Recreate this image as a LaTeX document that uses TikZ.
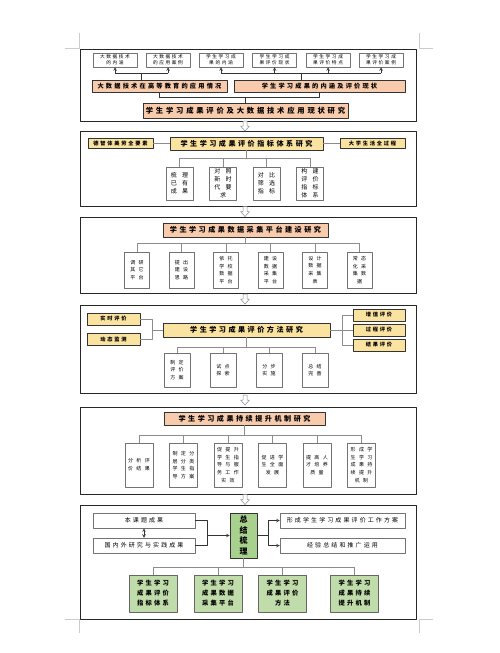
\documentclass[tikz,border=0pt]{standalone}
\usepackage{fontspec}
\setmainfont{Noto Sans CJK SC}
\newlength\zj
% 汉字之间加字距
\newcount\hz \hz="4E00
\loop \XeTeXcharclass\hz=10 \advance\hz by 1 \ifnum\hz<"A000 \repeat
\XeTeXinterchartokenstate=1
\XeTeXinterchartoks 10 10 = {\hskip\zj\relax}
\definecolor{cheng}{HTML}{F7CBAC}
\definecolor{huang}{HTML}{FAE2A0}
\definecolor{lv}{HTML}{C0DCAA}
\definecolor{lvshen}{HTML}{A9D18E}
\tikzset{
  kuang/.style={draw=black!85,line width=0.9pt},
  biaoji/.style={draw=black!20,line width=0.5pt},
  jiantou/.style={draw=black!45,fill=white,line width=0.5pt},
  xian/.style={draw=black!45,line width=0.5pt},
  xianhei/.style={draw=black!80,line width=0.6pt},
  hezi/.style={draw=black!55,fill=white,line width=0.5pt,inner sep=0pt,align=center},
  xiao/.style={hezi,minimum width=44pt,minimum height=14pt,
    font=\fontsize{4.7}{6.3}\selectfont\setlength\zj{1.6pt}},
  shu/.style={hezi,font=\fontsize{5}{7.8}\selectfont\setlength\zj{3.4pt}},
  shukuan/.style={hezi,font=\fontsize{6}{8}\selectfont\setlength\zj{5.4pt}},
  bian/.style={hezi,font=\fontsize{6}{7}\selectfont\setlength\zj{2.1pt}},
  zhuti/.style={draw=black!80,line width=0.6pt,inner sep=0pt,align=center,
    font=\bfseries\fontsize{7.1}{9}\selectfont\setlength\zj{2.5pt}},
  chengzhong/.style={zhuti,fill=cheng,
    font=\bfseries\fontsize{6.2}{7}\selectfont\setlength\zj{2.2pt}},
  ce/.style={zhuti,fill=huang,
    font=\bfseries\fontsize{5.2}{6}\selectfont\setlength\zj{1.8pt}},
  lvkuang/.style={zhuti,fill=lv,draw=black!60,
    font=\bfseries\fontsize{6.3}{10}\selectfont\setlength\zj{2.2pt}},
  zongjie/.style={zhuti,fill=lvshen,font=\bfseries\fontsize{8}{10.5}\selectfont}
}
\begin{document}
\begin{tikzpicture}[x=1pt,y=-1pt,>=stealth,line join=round]
\useasboundingbox (0,0) rectangle (500,653);
% 页面角标
\foreach \x/\y/\dx/\dy in {79/48/-14/-15,419/48/14/-15,79/619/-14/14,419/619/14/14}
  \draw[biaoji] (\x+\dx,\y) -- (\x,\y) -- (\x,\y+\dy);
% 六个外框
\foreach \t/\b in {49/121,131/206,217/293,305/393,407/494,505/619}
  \draw[kuang] (80,\t) rectangle (416,\b);
% 框间箭头
\foreach \y in {126,211.5,299,400,499.5}
  \draw[jiantou,shift={(245,\y)}] (-2,-5) -- (2,-5) -- (2,0) -- (4.5,0) -- (0,5) -- (-4.5,0) -- (-2,0) -- cycle;

% 第一部分
\foreach \n/\x/\wz in {a1/115/{大数据技术\\的内涵},a2/168/{大数据技术\\的应用案例},
  a3/221/{学生学习成\\果的内涵},a4/274.5/{学生学习成\\果评价现状},
  a5/328/{学生学习成\\果评价特点},a6/381/{学生学习成\\果评价案例}}
  \node[xiao] (\n) at (\x,60) {\wz};
\node[chengzhong,minimum width=135pt,minimum height=12pt] (m1) at (159.5,86) {大数据技术在高等教育的应用情况};
\node[chengzhong,minimum width=171pt,minimum height=12pt] (m2) at (319.5,86) {学生学习成果的内涵及评价现状};
\node[zhuti,fill=cheng,minimum width=205pt,minimum height=15pt,
  font=\bfseries\fontsize{7.3}{9}\selectfont\setlength\zj{2.8pt}] (t1) at (245.5,110.5) {学生学习成果评价及大数据技术应用现状研究};
\coordinate (g1) at (141.5,73);
\coordinate (g2) at (301,73);
\coordinate (h1) at (0,97);
\draw[xianhei] (a1.south |- g1) -- (a2.south |- g1) (a3.south |- g2) -- (a6.south |- g2);
\foreach \n in {a1,a2,a3,a4,a5,a6}
  \draw[xianhei,->] (\n.south |- g1) -- (\n.south);
\draw[xianhei] (g1) -- (g1 |- m1.north) (g2) -- (g2 |- m2.north);
\draw[xianhei] (m1.south) -- (m1.south |- h1) -- (m2.south |- h1) -- (m2.south)
  (t1.north) -- (t1.north |- h1);

% 第二部分
\node[ce,minimum width=65pt,minimum height=10pt] (d1) at (120.5,143.5) {德智体美劳全要素};
\node[zhuti,fill=huang,minimum width=153pt,minimum height=13pt] (c2) at (246.5,143.5) {学生学习成果评价指标体系研究};
\node[ce,minimum width=65pt,minimum height=10pt] (d2) at (372.5,143.5) {大学生活全过程};
\draw[xian] (d1) -- (c2) (c2) -- (d2);
\foreach \i/\x/\wz in {1/179.5/{梳理\\已有\\成果},2/223/{对照\\新时\\代要\\求},
  3/266.5/{对比\\筛选\\指标},4/310/{构建\\评价\\指标\\体系}}
  \node[shukuan,minimum width=27pt,minimum height=33pt] (b2\i) at (\x,183.5) {\wz};
\coordinate (h2) at (0,158);
\draw[xian] (c2.south) -- (c2.south |- h2) (b21.north |- h2) -- (b24.north |- h2);
\foreach \i in {1,...,4}
  \draw[xian] (b2\i.north |- h2) -- (b2\i.north);

% 第三部分
\node[zhuti,fill=cheng,minimum width=165pt,minimum height=14pt] (c3) at (245.5,230) {学生学习成果数据采集平台建设研究};
\foreach \i/\x/\wz in {1/137/{调研\\其它\\平台},2/181.5/{提出\\建设\\思路},
  3/226/{依托\\学校\\数据\\平台},4/270.5/{建设\\数据\\采集\\平台},
  5/315/{设计\\数据\\采集\\表},6/359.5/{常态\\化采\\集数\\据}}
  \node[shu,minimum width=25pt,minimum height=36pt] (b3\i) at (\x,270) {\wz};
\coordinate (h3) at (0,243);
\draw[xian] (c3.south) -- (c3.south |- h3) (b31.north |- h3) -- (b36.north |- h3);
\foreach \i in {1,...,6}
  \draw[xian] (b3\i.north |- h3) -- (b3\i.north);

% 第四部分
\node[ce,minimum width=53pt,minimum height=12pt] (l1) at (113.5,319) {实时评价};
\node[ce,minimum width=53pt,minimum height=12pt] (l2) at (113.5,339) {动态监测};
\node[zhuti,fill=huang,minimum width=167pt,minimum height=14pt] (c4) at (246.5,330) {学生学习成果评价方法研究};
\foreach \n/\y/\wz in {r1/315/增值评价,r2/330/过程评价,r3/345/结果评价}
  \node[ce,minimum width=52pt,minimum height=12pt] (\n) at (379,\y) {\wz};
\coordinate (zl) at (152,330);
\coordinate (zr) at (342,330);
\draw[xian] (l1.east) -| (zl) (l2.east) -| (zl) (zl) -- (c4.west);
\draw[xian] (r1.west) -| (zr) (r3.west) -| (zr) (r2.west) -- (c4.east);
\foreach \i/\x/\wz in {1/177/{制定\\评价\\方案},2/223/{试点\\探索},
  3/269/{分步\\实施},4/315/{总结\\完善}}
  \node[shu,minimum width=26pt,minimum height=34pt] (b4\i) at (\x,370) {\wz};
\coordinate (h4) at (0,347);
\draw[xian] (c4.south) -- (c4.south |- h4) (b41.north |- h4) -- (b44.north |- h4);
\foreach \i in {1,...,4}
  \draw[xian] (b4\i.north |- h4) -- (b4\i.north);

% 第五部分
\node[zhuti,fill=cheng,minimum width=161pt,minimum height=13pt] (c5) at (244.5,418.5) {学生学习成果持续提升机制研究};
\foreach \i/\x/\wz in {1/139/{分析评\\价结果},2/183.5/{制定分\\层分类\\学生指\\导方案},
  3/228/{促提升\\学生指\\导与服\\务工作\\实效},4/272.5/{促进学\\生全面\\发展},
  5/317/{提高人\\才培养\\质量},6/361.5/{形成学\\生学习\\成果持\\续提升\\机制}}
  \node[shu,minimum width=28pt,minimum height=44pt] (b5\i) at (\x,465) {\wz};
\coordinate (h5) at (0,435);
\draw[xian] (c5.south) -- (c5.south |- h5) (b51.north |- h5) -- (b56.north |- h5);
\foreach \i in {1,...,6}
  \draw[xian] (b5\i.north |- h5) -- (b5\i.north);

% 第六部分
\node[bian,minimum width=102pt,minimum height=15pt] (s1) at (144,520.5) {本课题成果};
\node[bian,minimum width=102pt,minimum height=15pt] (s2) at (144,545.5) {国内外研究与实践成果};
\node[zongjie,minimum width=27pt,minimum height=45pt] (zong) at (243.5,535.5) {总\\结\\梳\\理};
\node[bian,minimum width=125pt,minimum height=15pt] (q1) at (342.5,520.5) {形成学生学习成果评价工作方案};
\node[bian,minimum width=125pt,minimum height=15pt] (q2) at (342.5,545.5) {经验总结和推广运用};
\draw[xianhei,<->] (s1) -- (s2);
\coordinate (jl) at (207,535.5);
\coordinate (jr) at (268,535.5);
\draw[xianhei] (s1.east) -| (jl) (s2.east) -| (jl);
\draw[xianhei,->] (jl) -- (zong.west);
\draw[xianhei] (zong.east) -- (jr);
\draw[xianhei,->] (jr) |- (q1.west);
\draw[xianhei,->] (jr) |- (q2.west);
\foreach \i/\x/\wz in {1/153/{学生学习\\成果评价\\指标体系},2/218/{学生学习\\成果数据\\采集平台},
  3/282.5/{学生学习\\成果评价\\方法},4/354.5/{学生学习\\成果持续\\提升机制}}
  \node[lvkuang,minimum width=48pt,minimum height=37pt] (b6\i) at (\x,593.5) {\wz};
\coordinate (h6) at (0,567);
\draw[xian] (zong.south) -- (zong.south |- h6) (b61.north |- h6) -- (b64.north |- h6);
\foreach \i in {1,...,4}
  \draw[xian] (b6\i.north |- h6) -- (b6\i.north);
\end{tikzpicture}
\end{document}
